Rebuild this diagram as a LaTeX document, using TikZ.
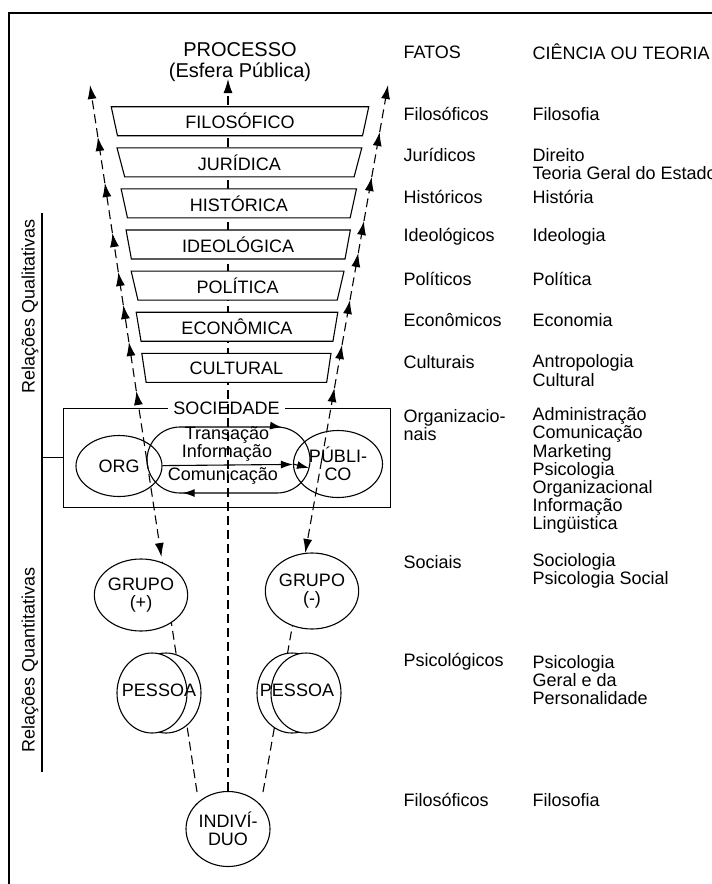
\documentclass[tikz,border=0pt]{standalone}
\usepackage{fontspec}
\setmainfont{Liberation Sans}
\usetikzlibrary{shapes.geometric, arrows.meta, calc, backgrounds, decorations.markings}

\begin{document}
\begin{tikzpicture}[
  x=1pt, y=-1pt, line width=1.1pt,
  font=\fontsize{18}{18.2}\selectfont,
  layer/.style={trapezium, trapezium stretches=true, shape border rotate=180, trapezium left angle=80, trapezium right angle=80, draw, fill=white, minimum height=29pt, inner sep=0pt},
  bubble/.style={ellipse, draw, fill=white, align=center, inner sep=0pt},
  dline/.style={dash pattern=on 9pt off 5pt, line width=1.1pt},
  flow/.style={dline, -{Latex[length=14pt, width=9pt]}},
  tip/.style={-{Latex[length=12pt, width=8pt]}},
  txt/.style={anchor=west, align=left, inner sep=0pt}
]
\useasboundingbox (0,0) rectangle (712,884);
\draw[line width=1.3pt] (9,884) |- (712,13);

% titulo e colunas
\node[align=center, font=\fontsize{20}{21}\selectfont] (proc) at (240,62) {PROCESSO\\(Esfera Pública)};
\node[txt] (fatos) at (403,52) {FATOS};
\node[txt] (ciencia) at (532,52) {CIÊNCIA OU TEORIA};

% camadas do processo
\foreach \nome [count=\i from 0] in {FILOSÓFICO, JURÍDICA, HISTÓRICA, IDEOLÓGICA, POLÍTICA, ECONÔMICA, CULTURAL}
  \node[layer, minimum width={258-11.2*\i}] (c\i) at ({240-0.6*\i},{121.2+41.1*\i}) {\nome};

% sociedade
\node[draw, ellipse, minimum width=86pt, minimum height=61pt, inner sep=0pt] (org) at (119,466) {ORG};
\node[draw, ellipse, align=center, minimum width=89pt, minimum height=67pt, inner sep=0pt] (pub) at (338,464) {PÚBLI-\\CO};
\node[bubble, minimum width=80pt, minimum height=72pt] (grupoA) at (141,595) {GRUPO\\(+)};
\node[bubble, minimum width=74pt, minimum height=76pt] (grupoB) at (312,591) {GRUPO\\(-)};
\node[bubble, minimum width=70pt, minimum height=80pt] (pessoaA2) at (166,693) {};
\node[bubble, minimum width=70pt, minimum height=80pt] (pessoaA) at (152,693) {};
\node (tpA) at (159,690) {PESSOA};
\node[bubble, minimum width=70pt, minimum height=80pt] (pessoaB2) at (292,693) {};
\node[bubble, minimum width=70pt, minimum height=80pt] (pessoaB) at (306,693) {};
\node (tpB) at (297,690) {PESSOA};
\node[bubble, minimum width=84pt, minimum height=75pt] (indiv) at (228,829) {INDIVÍ-\\DUO};

% eixos laterais
\coordinate (botL) at (197,792);
\coordinate (topL) at (90,85);
\coordinate (botR) at (263,792);
\coordinate (topR) at (388,85);
\coordinate (topC) at (228,79);
\foreach \y [count=\k] in {460,391,342,305,272,233,183,137,85}
  \coordinate (L\k) at ($(botL)!{(792-\y)/707}!(topL)$);
\foreach \y [count=\k] in {460,388,345,300,253,221,177,132,85}
  \coordinate (R\k) at ($(botR)!{(792-\y)/707}!(topR)$);
\coordinate (LgA) at ($(botL)!{(792-557)/707}!(topL)$);
\coordinate (RgB) at ($(botR)!{(792-553)/707}!(topR)$);

\begin{scope}[on background layer]
  \node[draw, minimum width=327pt, minimum height=99pt] (soc) at (226.5,457.5) {};
  \node[fill=white, inner xsep=5pt, inner ysep=1pt] (socl) at (soc.north) {SOCIEDADE};
  \draw[flow] (indiv) -- (topC);
  \draw[dline] (botL) -- (LgA);
  \draw[dline] (botR) -- (RgB);
  \draw[flow] (L1) -- (LgA);
  \draw[flow] (R1) -- (RgB);
  \foreach \a/\b in {1/2,2/3,3/4,4/5,5/6,6/7,7/8,8/9} {
    \draw[flow] (L\a) -- (L\b);
    \draw[flow] (R\a) -- (R\b);
  }
\end{scope}

% trocas org - publico
\draw[postaction={decorate}, decoration={markings,
    mark=at position 102pt with {\arrow{Latex[length=12pt, width=8pt]}},
    mark=at position 295pt with {\arrow{Latex[length=12pt, width=8pt]}}}]
  (180,427) -- (277,427) arc[start angle=-90, end angle=90, radius=33]
  -- (180,493) arc[start angle=90, end angle=270, radius=33] -- cycle;
\draw[tip] (org) -- (pub);
\coordinate (pubin) at (309,468);
\draw[tip] (pub.west) -- (pubin);
\node[align=center, inner sep=0pt, font=\fontsize{18}{14.5}\selectfont] (ttr) at (227,444) {Transação\\Informação};
\node[inner sep=0pt] (tcom) at (223,476) {Comunicação};

% relacoes
\node[rotate=90] (rql) at (30,306) {Relações Qualitativas};
\node[rotate=90] (rqt) at (30,660) {Relações Quantitativas};
\coordinate (rel1) at (42,213);
\coordinate (rel2) at (42,772);
\draw (rel1) -- (rel2);
\draw (soc.west) -- (soc.west -| rel1);

% fatos
\node[txt] (f1) at (403,114) {Filosóficos};
\node[txt] (f2) at (403,155) {Jurídicos};
\node[txt] (f3) at (403,197) {Históricos};
\node[txt] (f4) at (403,237) {Ideológicos};
\node[txt] (f5) at (403,279) {Políticos};
\node[txt] (f6) at (403,320) {Econômicos};
\node[txt] (f7) at (403,362) {Culturais};
\node[txt] (f8) at (403,425) {Organizacio-\\nais};
\node[txt] (f9) at (403,562) {Sociais};
\node[txt] (f10) at (403,662) {Psicológicos};
\node[txt] (f11) at (403,800) {Filosóficos};

% ciencias
\node[txt] (t1) at (532,114) {Filosofia};
\node[txt] (t2) at (532,164) {Direito\\Teoria Geral do Estado};
\node[txt] (t3) at (532,197) {História};
\node[txt] (t4) at (532,237) {Ideologia};
\node[txt] (t5) at (532,279) {Política};
\node[txt] (t6) at (532,320) {Economia};
\node[txt] (t7) at (532,370.5) {Antropologia\\Cultural};
\node[txt] (t8) at (532,470.7) {Administração\\Comunicação\\Marketing\\Psicologia\\Organizacional\\Informação\\Lingüistica};
\node[txt] (t9) at (532,571) {Sociologia\\Psicologia Social};
\node[txt] (t10) at (532,680) {Psicologia\\Geral e da\\Personalidade};
\node[txt] (t11) at (532,800) {Filosofia};
\end{tikzpicture}
\end{document}
